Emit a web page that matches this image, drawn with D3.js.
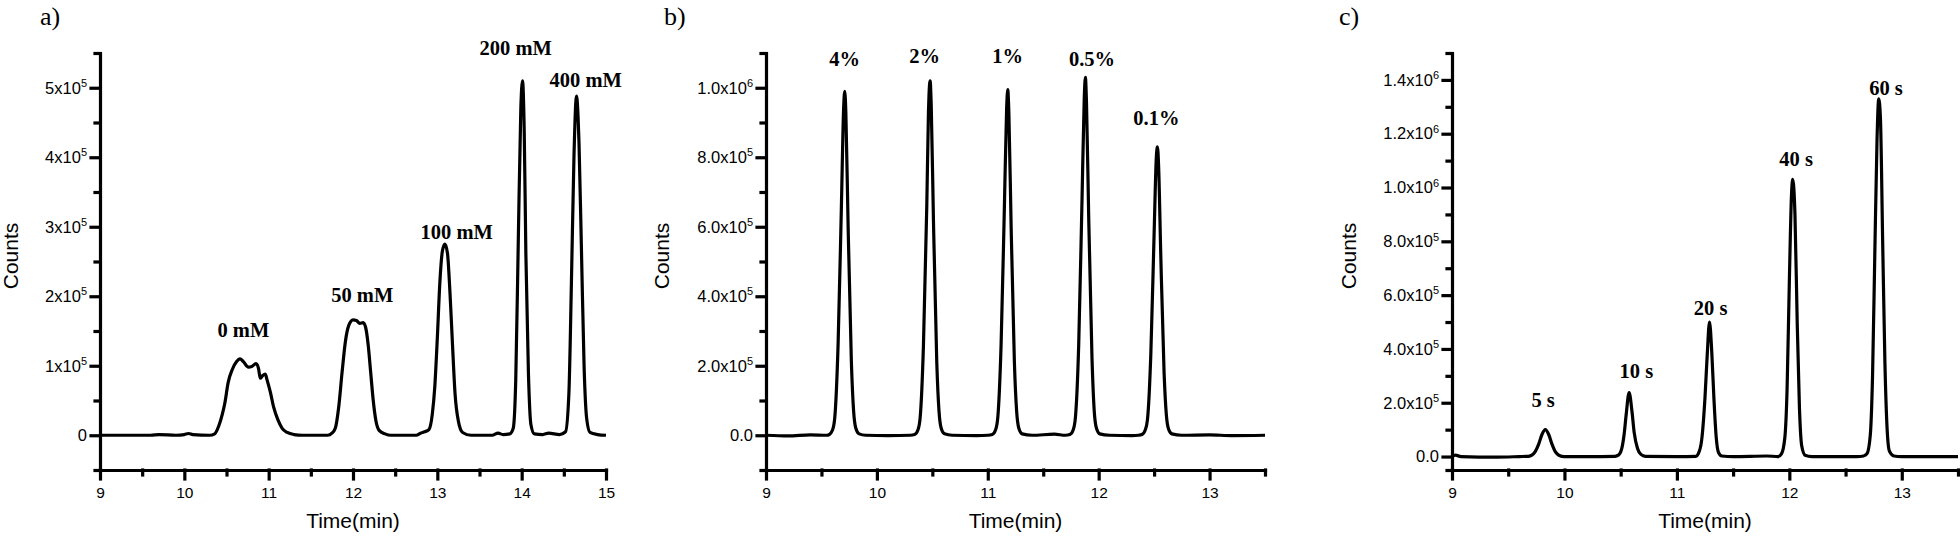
<!DOCTYPE html>
<html>
<head>
<meta charset="utf-8">
<script src="https://cdn.jsdelivr.net/npm/d3@7/dist/d3.min.js"></script>
<style>
  body { margin: 0; background: #fff; }
  svg { display: block; }
  .axis path, .axis line { stroke: #000; stroke-width: 3.2; stroke-linecap: square; }
  .axis text { font-family: "Liberation Sans", Arial, sans-serif; fill: #000; }
  .y-axis text { font-size: 16.5px; }
  .x-axis text { font-size: 15.5px; }
  .trace { fill: none; stroke: #000; stroke-width: 3.2; stroke-linejoin: round; }
  .axis-title { font-family: "Liberation Sans", Arial, sans-serif; font-size: 21px; fill: #000; }
  .panel-label { font-family: "Liberation Serif", "Times New Roman", serif; font-size: 26px; fill: #000; }
  .peak-label { font-family: "Liberation Serif", "Times New Roman", serif; font-size: 20.5px; font-weight: bold; fill: #000; }
</style>
</head>
<body>
<div class="canvas"></div>
<script>
// page size
const w = 1960;
const h = 537;

// counts are stored in units of 1e5

// ---- panel a : salt concentration ----
const traceA = [
  [9.0, 0], [9.6, 0], [9.7, 0.01], [9.9, 0.0], [10.0, 0.01], [10.05, 0.025], [10.1, 0.01], [10.3, 0.0],
  [10.36, 0.02], [10.41, 0.14], [10.45, 0.3], [10.48, 0.46], [10.52, 0.76], [10.57, 0.95], [10.62, 1.06],
  [10.66, 1.10], [10.70, 1.06], [10.76, 0.98], [10.80, 0.99], [10.85, 1.03], [10.88, 0.96], [10.90, 0.82],
  [10.93, 0.86], [10.96, 0.88], [10.98, 0.80], [11.02, 0.62], [11.06, 0.40], [11.11, 0.22], [11.16, 0.10],
  [11.22, 0.04], [11.3, 0.01], [11.4, 0.0], [11.7, 0.0], [11.75, 0.03], [11.79, 0.1], [11.83, 0.4],
  [11.87, 0.9], [11.91, 1.35], [11.95, 1.58], [12.0, 1.66], [12.04, 1.65], [12.08, 1.61], [12.12, 1.62],
  [12.15, 1.55], [12.18, 1.3], [12.21, 0.9], [12.24, 0.5], [12.27, 0.22], [12.31, 0.07], [12.38, 0.02],
  [12.45, 0.0], [12.75, 0.0], [12.8, 0.03], [12.85, 0.05], [12.9, 0.08], [12.94, 0.3], [12.97, 0.7],
  [13.0, 1.4], [13.03, 2.2], [13.06, 2.65], [13.09, 2.75], [13.12, 2.62], [13.15, 2.05], [13.18, 1.3],
  [13.21, 0.6], [13.25, 0.2], [13.3, 0.04], [13.4, 0.0], [13.65, 0.0], [13.72, 0.03], [13.78, 0.01],
  [13.86, 0.02], [13.9, 0.1], [13.93, 0.8], [13.96, 2.8], [13.99, 4.7], [14.01, 5.1], [14.03, 4.4],
  [14.05, 2.6], [14.08, 0.9], [14.11, 0.15], [14.15, 0.02], [14.25, 0.01], [14.32, 0.03], [14.45, 0.01],
  [14.52, 0.05], [14.56, 0.6], [14.59, 2.2], [14.62, 4.0], [14.65, 4.88], [14.68, 4.2], [14.71, 2.6],
  [14.74, 1.0], [14.77, 0.25], [14.81, 0.04], [14.9, 0.01], [15.0, 0.0]
];
const peakTextA = ["0 mM", "50 mM", "100 mM", "200 mM", "400 mM"];
const peakPosA = [[10.70, 1.52], [12.11, 2.02], [13.23, 2.93], [13.93, 5.58], [14.76, 5.11]];
const yMajorA = [0, 1, 2, 3, 4, 5];
const yMinorA = [-0.5, 0.5, 1.5, 2.5, 3.5, 4.5, 5.5];
const yLabelsA = [["0", ""], ["1x10", "5"], ["2x10", "5"], ["3x10", "5"], ["4x10", "5"], ["5x10", "5"]];
const xMajorA = [9, 10, 11, 12, 13, 14, 15];
const xMinorA = [9.5, 10.5, 11.5, 12.5, 13.5, 14.5];

// ---- panel b : percentage ----
const traceB = [
  [9.0, 0.0], [9.2, -0.02], [9.4, 0.01], [9.55, 0.0],
  [9.57, 0.02], [9.60, 0.15], [9.62, 0.5], [9.65, 2.6], [9.68, 6.6], [9.70, 9.4], [9.71, 9.9], [9.72, 9.3],
  [9.74, 6.1], [9.77, 2.1], [9.79, 0.7], [9.81, 0.2], [9.84, 0.04], [9.9, 0.0], [10.1, -0.01], [10.3, 0.0],
  [10.34, 0.02], [10.37, 0.15], [10.39, 0.5], [10.42, 2.6], [10.45, 6.6], [10.465, 9.3], [10.47, 9.8],
  [10.48, 10.2], [10.49, 9.5], [10.51, 6.2], [10.54, 2.1], [10.56, 0.7], [10.58, 0.2], [10.61, 0.04],
  [10.68, 0.0], [10.9, -0.01], [11.0, 0.0],
  [11.04, 0.02], [11.07, 0.15], [11.09, 0.5], [11.12, 2.6], [11.15, 6.6], [11.17, 9.4], [11.18, 9.95],
  [11.19, 9.3], [11.21, 6.1], [11.24, 2.1], [11.26, 0.7], [11.28, 0.2], [11.31, 0.04], [11.4, 0.0],
  [11.6, 0.03], [11.7, 0.0],
  [11.74, 0.02], [11.77, 0.15], [11.79, 0.5], [11.82, 2.6], [11.85, 6.8], [11.87, 9.7], [11.88, 10.3],
  [11.89, 9.6], [11.91, 6.3], [11.94, 2.2], [11.96, 0.7], [11.98, 0.2], [12.01, 0.04], [12.1, 0.0],
  [12.3, -0.01], [12.36, 0.0],
  [12.39, 0.02], [12.42, 0.15], [12.44, 0.45], [12.47, 2.3], [12.50, 5.8], [12.52, 8.0], [12.53, 8.3],
  [12.54, 7.8], [12.56, 5.2], [12.59, 1.8], [12.61, 0.6], [12.63, 0.18], [12.66, 0.04], [12.75, 0.0],
  [13.0, 0.01], [13.2, -0.01], [13.5, 0.0]
];
const peakTextB = ["4%", "2%", "1%", "0.5%", "0.1%"];
const peakPosB = [[9.71, 10.84], [10.43, 10.91], [11.18, 10.91], [11.94, 10.84], [12.52, 9.13]];
const yMajorB = [0, 2, 4, 6, 8, 10];
const yMinorB = [-1, 1, 3, 5, 7, 9, 11];
const yLabelsB = [["0.0", ""], ["2.0x10", "5"], ["4.0x10", "5"], ["6.0x10", "5"], ["8.0x10", "5"], ["1.0x10", "6"]];
const xMajorB = [9, 10, 11, 12, 13];
const xMinorB = [9.5, 10.5, 11.5, 12.5, 13.5];

// ---- panel c : time ----
const traceC = [
  [9.0, 0.0], [9.03, 0.05], [9.08, 0.0], [9.4, -0.02], [9.6, 0.0], [9.68, 0.01],
  [9.71, 0.05], [9.74, 0.18], [9.77, 0.45], [9.80, 0.82], [9.83, 1.0], [9.86, 0.82], [9.89, 0.45],
  [9.92, 0.17], [9.95, 0.05], [10.0, 0.0], [10.2, 0.0], [10.45, 0.01],
  [10.48, 0.05], [10.51, 0.3], [10.53, 0.8], [10.55, 1.6], [10.575, 2.38], [10.6, 1.7], [10.62, 0.9],
  [10.65, 0.3], [10.68, 0.08], [10.72, 0.01], [11.0, 0.0], [11.17, 0.01],
  [11.19, 0.1], [11.22, 0.6], [11.25, 2.2], [11.27, 3.8], [11.29, 5.0], [11.31, 3.9], [11.33, 2.1],
  [11.35, 0.7], [11.37, 0.15], [11.40, 0.02], [11.5, 0.0], [11.8, 0.02], [11.9, 0.0],
  [11.93, 0.1], [11.96, 0.7], [11.98, 2.5], [12.0, 6.5], [12.02, 9.8], [12.03, 10.3], [12.05, 9.0],
  [12.07, 5.0], [12.09, 1.8], [12.11, 0.4], [12.14, 0.05], [12.2, 0.0], [12.6, 0.0], [12.66, 0.02],
  [12.69, 0.1], [12.72, 0.8], [12.74, 3.0], [12.76, 7.5], [12.78, 11.8], [12.795, 13.3], [12.81, 12.6],
  [12.83, 8.0], [12.85, 3.5], [12.87, 1.0], [12.89, 0.2], [12.93, 0.02], [13.0, 0.0], [13.5, 0.0]
];
const peakTextC = ["5 s", "10 s", "20 s", "40 s", "60 s"];
const peakPosC = [[9.81, 2.10], [10.64, 3.18], [11.30, 5.54], [12.06, 11.08], [12.86, 13.72]];
const yMajorC = [0, 2, 4, 6, 8, 10, 12, 14];
const yMinorC = [-0.5, 1, 3, 5, 7, 9, 11, 13, 15];
const yLabelsC = [["0.0", ""], ["2.0x10", "5"], ["4.0x10", "5"], ["6.0x10", "5"], ["8.0x10", "5"],
                  ["1.0x10", "6"], ["1.2x10", "6"], ["1.4x10", "6"]];
const xMajorC = [9, 10, 11, 12, 13];
const xMinorC = [9.5, 10.5, 11.5, 12.5, 13.5];

// panel layouts
const panels = [
  { name: "a)", labelX: 40, left: 100, right: 606, titleX: 18,
    xDomain: [9, 15], yDomain: [-0.5, 5.5], trace: traceA, peakText: peakTextA, peakPos: peakPosA,
    yMajor: yMajorA, yMinor: yMinorA, yLabels: yLabelsA, xMajor: xMajorA, xMinor: xMinorA },
  { name: "b)", labelX: 664, left: 766, right: 1265, titleX: 669,
    xDomain: [9, 13.5], yDomain: [-1, 11], trace: traceB, peakText: peakTextB, peakPos: peakPosB,
    yMajor: yMajorB, yMinor: yMinorB, yLabels: yLabelsB, xMajor: xMajorB, xMinor: xMinorB },
  { name: "c)", labelX: 1339, left: 1452, right: 1958, titleX: 1356,
    xDomain: [9, 13.5], yDomain: [-0.5, 15], trace: traceC, peakText: peakTextC, peakPos: peakPosC,
    yMajor: yMajorC, yMinor: yMinorC, yLabels: yLabelsC, xMajor: xMajorC, xMinor: xMinorC }
];
const plotTop = 53;
const plotBottom = 470;

const svg = d3.select(".canvas").append("svg").attr("width", w).attr("height", h);

panels.forEach(p => {
  const xScale = d3.scaleLinear().domain(p.xDomain).range([p.left, p.right]);
  const yScale = d3.scaleLinear().domain(p.yDomain).range([plotBottom, plotTop]);
  const g = svg.append("g");

  // y axis, major ticks with x10^n labels
  g.append("g")
    .attr("class", "axis y-axis")
    .attr("transform", `translate(${p.left}, 0)`)
    .call(d3.axisLeft(yScale).tickValues(p.yMajor).tickSize(9).tickSizeOuter(0).tickPadding(4))
    .call(ax => ax.selectAll(".tick text").each(function(d, i) {
      const lab = p.yLabels[i];
      const t = d3.select(this).text(lab[0]);
      if (lab[1]) t.append("tspan").attr("dy", "-0.6em").attr("font-size", "11px").text(lab[1]);
    }));

  // y minor ticks
  g.append("g")
    .attr("class", "axis")
    .attr("transform", `translate(${p.left}, 0)`)
    .call(d3.axisLeft(yScale).tickValues(p.yMinor).tickSize(5).tickFormat(""))
    .call(ax => ax.select(".domain").remove());

  // x axis
  g.append("g")
    .attr("class", "axis x-axis")
    .attr("transform", `translate(0, ${plotBottom})`)
    .call(d3.axisBottom(xScale).tickValues(p.xMajor).tickSize(9).tickSizeOuter(0).tickPadding(8)
      .tickFormat(d3.format("d")));

  // x minor ticks
  g.append("g")
    .attr("class", "axis")
    .attr("transform", `translate(0, ${plotBottom})`)
    .call(d3.axisBottom(xScale).tickValues(p.xMinor).tickSize(5).tickFormat(""))
    .call(ax => ax.select(".domain").remove());

  // chromatogram trace
  const line = d3.line()
    .x(d => xScale(d[0]))
    .y(d => yScale(d[1]))
    .curve(d3.curveMonotoneX);
  g.append("path").attr("class", "trace").attr("d", line(p.trace));

  // peak labels
  g.selectAll(".peak-label")
    .data(p.peakText)
    .enter()
    .append("text")
    .attr("class", "peak-label")
    .attr("x", (d, i) => xScale(p.peakPos[i][0]))
    .attr("y", (d, i) => yScale(p.peakPos[i][1]))
    .attr("dy", "0.35em")
    .attr("text-anchor", "middle")
    .text(d => d);

  // axis titles
  g.append("text")
    .attr("class", "axis-title")
    .attr("x", (p.left + p.right) / 2)
    .attr("y", 528)
    .attr("text-anchor", "middle")
    .text("Time(min)");

  g.append("text")
    .attr("class", "axis-title")
    .attr("transform", `translate(${p.titleX}, 256) rotate(-90)`)
    .attr("text-anchor", "middle")
    .text("Counts");

  // panel letter
  g.append("text")
    .attr("class", "panel-label")
    .attr("x", p.labelX)
    .attr("y", 25)
    .text(p.name);
});
</script>
</body>
</html>
